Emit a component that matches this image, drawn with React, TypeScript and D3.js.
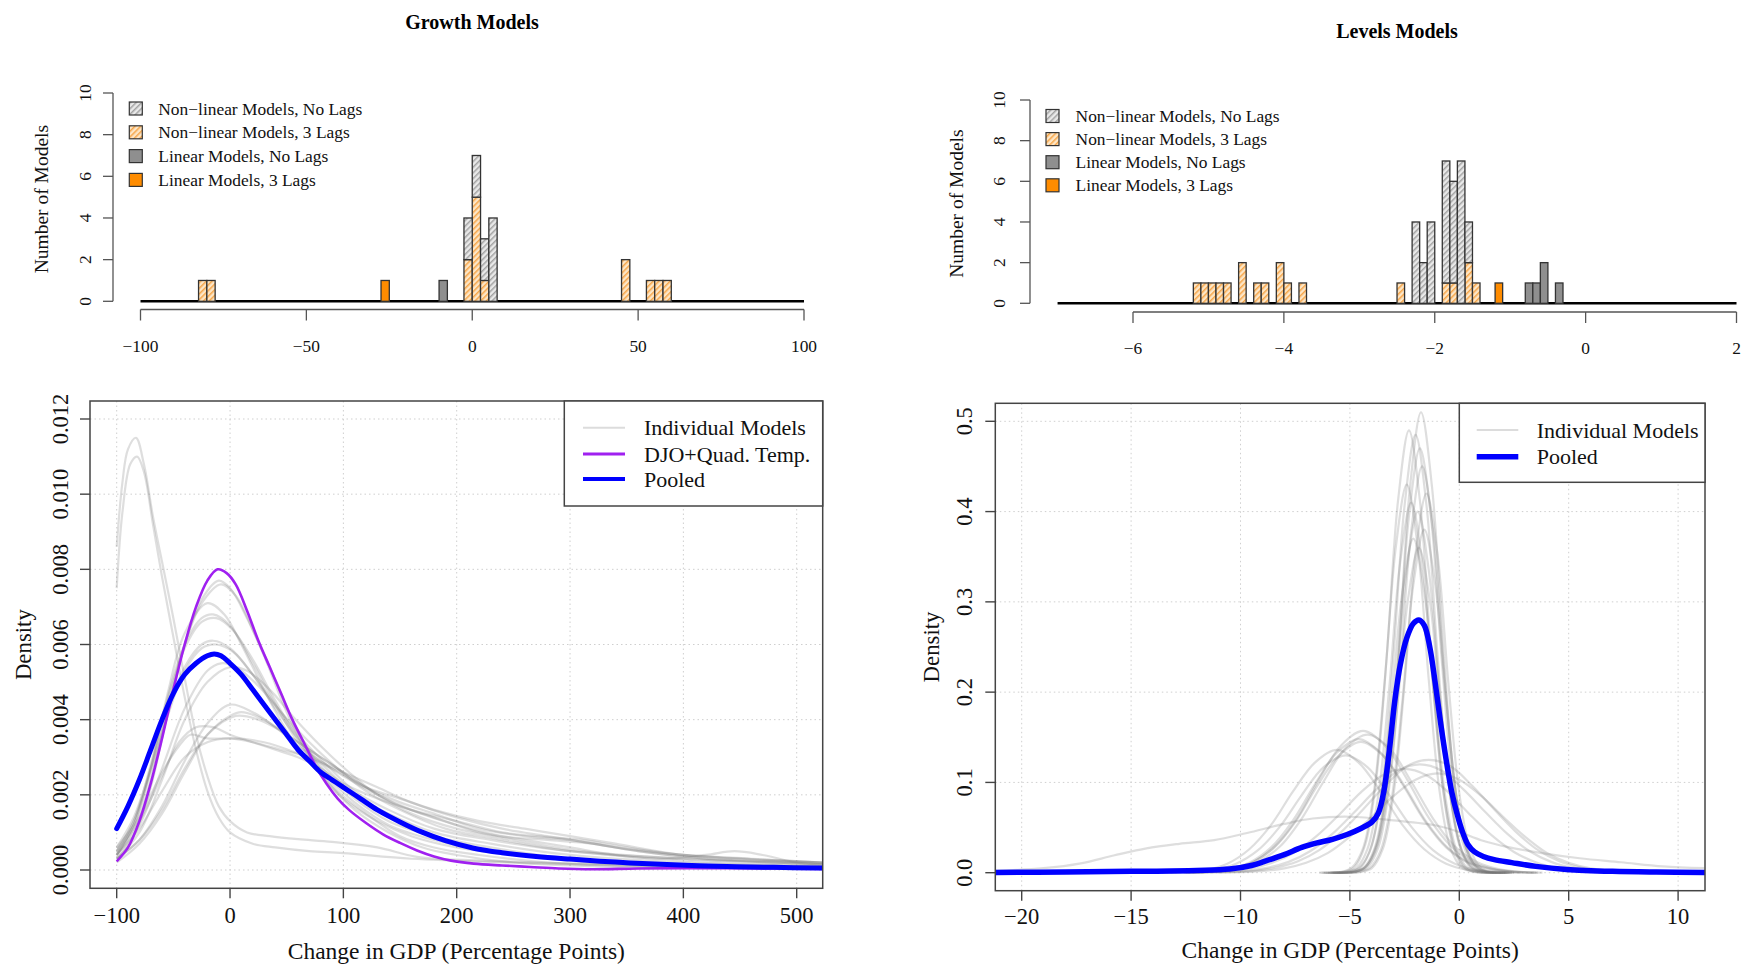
import React, { useEffect, useRef } from "react";
import * as d3 from "d3";

type Pt = [number, number];

const FONT = "'Liberation Serif', 'Times New Roman', serif";

// ---------------- histogram data: [bin start, count] ----------------
const growthBinWidth = 2.5;
const growthNonlin3Lags: Pt[] = [[-82.5, 1], [-80, 1], [-2.5, 2], [0, 5], [2.5, 1], [45, 2], [52.5, 1], [55, 1], [57.5, 1]];
const growthNonlinNoLags: Pt[] = [[-2.5, 2], [0, 2], [2.5, 2], [5, 4]];
const growthLinNoLags: Pt[] = [[-10, 1]];
const growthLin3Lags: Pt[] = [[-27.5, 1]];
const growthHistRange = [-100, 100];
const growthHistTicks = [-100, -50, 0, 50, 100];

const levelsBinWidth = 0.1;
const levelsNonlin3Lags: Pt[] = [
  [-5.2, 1], [-5.1, 1], [-5.0, 1], [-4.9, 1], [-4.8, 1], [-4.6, 2], [-4.4, 1], [-4.3, 1],
  [-4.1, 2], [-4.0, 1], [-3.8, 1], [-2.5, 1], [-1.9, 1], [-1.8, 1], [-1.6, 2], [-1.5, 1],
];
const levelsNonlinNoLags: Pt[] = [[-2.3, 4], [-2.2, 2], [-2.1, 4], [-1.9, 6], [-1.8, 5], [-1.7, 7], [-1.6, 2]];
const levelsLinNoLags: Pt[] = [[-0.8, 1], [-0.7, 1], [-0.6, 2], [-0.4, 1]];
const levelsLin3Lags: Pt[] = [[-1.2, 1]];
const levelsHistRange = [-7, 2];
const levelsHistTicks = [-6, -4, -2, 0, 2];

const countTicks = [0, 2, 4, 6, 8, 10];
const histLegendLabels = [
  "Non\u2212linear Models, No Lags",
  "Non\u2212linear Models, 3 Lags",
  "Linear Models, No Lags",
  "Linear Models, 3 Lags",
];

// ---------------- density data (growth models) ----------------
const growthTicksX = [-100, 0, 100, 200, 300, 400, 500];
const growthTicksY = [0, 0.002, 0.004, 0.006, 0.008, 0.01, 0.012];

const growthPooled: Pt[] = [
  [-100, 0.0011], [-90, 0.0017], [-80, 0.0024], [-70, 0.0032], [-60, 0.004], [-50, 0.0047], [-40, 0.0052],
  [-30, 0.0055], [-20, 0.0057], [-14, 0.00575], [-8, 0.0057], [0, 0.0055], [10, 0.0052], [20, 0.0048], [30, 0.0044],
  [40, 0.004], [50, 0.0036], [60, 0.0032], [70, 0.0029], [80, 0.0026], [90, 0.0024], [100, 0.0022], [115, 0.0019],
  [130, 0.0016], [150, 0.00128], [170, 0.001], [190, 0.00078], [215, 0.00058], [240, 0.00046], [270, 0.00036],
  [300, 0.00029], [340, 0.00021], [380, 0.00015], [430, 0.0001], [480, 0.00007], [523, 0.00005],
];
const growthDJO: Pt[] = [
  [-100, 0.00023], [-90, 0.0006], [-80, 0.0013], [-70, 0.0023], [-60, 0.0035], [-50, 0.0048], [-40, 0.006],
  [-30, 0.007], [-20, 0.0077], [-11, 0.008], [-3, 0.0079], [5, 0.0076], [15, 0.0069], [25, 0.0061], [35, 0.0054],
  [45, 0.0047], [55, 0.004], [65, 0.0034], [75, 0.0028], [85, 0.0023], [95, 0.0019], [105, 0.0016], [120, 0.00125],
  [135, 0.00095], [150, 0.00072], [165, 0.00052], [180, 0.00036], [195, 0.00025], [215, 0.00017], [240, 0.00012],
  [265, 0.00008], [290, 0.00004], [320, 0.00002], [360, 0.00004], [420, 0.00005], [480, 0.00004], [523, 0.00003],
];
const growthModels: Pt[][] = [
  [[-100, 0.0086], [-95, 0.0103], [-90, 0.0112], [-83, 0.0115], [-76, 0.0108], [-68, 0.0094], [-60, 0.0082], [-50, 0.0067],
    [-40, 0.0051], [-30, 0.0036], [-20, 0.0025], [-10, 0.0017], [0, 0.0013], [15, 0.001], [35, 0.0009], [60, 0.00082],
    [90, 0.00075], [130, 0.0006], [165, 0.00035], [220, 0.00025], [300, 0.00018], [400, 0.0001], [523, 0.00005]],
  [[-100, 0.0075], [-95, 0.0095], [-88, 0.0108], [-82, 0.011], [-76, 0.0106], [-68, 0.0092], [-60, 0.0078], [-50, 0.0062],
    [-40, 0.0046], [-30, 0.0032], [-20, 0.0021], [-10, 0.0014], [0, 0.001], [20, 0.0007], [40, 0.0006], [70, 0.0005],
    [100, 0.00045], [160, 0.0003], [250, 0.0002], [350, 0.00012], [523, 0.00005]],
  [[-100, 0.0003], [-85, 0.0009], [-70, 0.0022], [-55, 0.0042], [-40, 0.006], [-25, 0.0072], [-10, 0.0077], [0, 0.0075],
    [15, 0.0067], [30, 0.0057], [50, 0.0042], [70, 0.003], [90, 0.0022], [110, 0.0016], [140, 0.001], [170, 0.0006],
    [200, 0.0004], [250, 0.0002], [320, 0.0001], [420, 0.00005], [523, 0.00003]],
  [[-100, 0.0004], [-85, 0.0011], [-70, 0.0024], [-55, 0.0043], [-40, 0.006], [-25, 0.0071], [-8, 0.0076], [5, 0.0073],
    [20, 0.0064], [35, 0.0054], [55, 0.004], [75, 0.0029], [95, 0.0021], [120, 0.0015], [150, 0.0009], [180, 0.0006],
    [220, 0.0004], [280, 0.0002], [360, 0.0001], [523, 0.00004]],
  [[-100, 0.0004], [-85, 0.0012], [-70, 0.0027], [-55, 0.0047], [-40, 0.0063], [-20, 0.0071], [-5, 0.0068], [10, 0.006],
    [30, 0.0048], [50, 0.0037], [75, 0.0027], [100, 0.0019], [130, 0.0013], [160, 0.0009], [200, 0.0006], [250, 0.0004],
    [320, 0.0002], [420, 0.0001], [523, 0.00005]],
  [[-100, 0.0005], [-85, 0.0013], [-70, 0.0028], [-55, 0.0046], [-40, 0.006], [-25, 0.0067], [-15, 0.0068], [0, 0.0065],
    [20, 0.0055], [40, 0.0044], [60, 0.0034], [85, 0.0025], [110, 0.0018], [140, 0.0012], [180, 0.0008], [230, 0.0005],
    [300, 0.0003], [400, 0.00015], [523, 0.00008]],
  [[-100, 0.0004], [-85, 0.0012], [-70, 0.0027], [-55, 0.0045], [-40, 0.0059], [-25, 0.0066], [-12, 0.0067], [2, 0.0064],
    [20, 0.0056], [40, 0.0045], [60, 0.0035], [85, 0.0026], [110, 0.0019], [140, 0.0013], [180, 0.0009], [230, 0.0006],
    [300, 0.0003], [400, 0.00015], [523, 0.00008]],
  [[-100, 0.0006], [-85, 0.0014], [-70, 0.0027], [-55, 0.0042], [-40, 0.0054], [-25, 0.006], [-15, 0.0061], [0, 0.0059],
    [20, 0.0052], [40, 0.0043], [60, 0.0035], [85, 0.0027], [110, 0.002], [140, 0.0015], [180, 0.001], [230, 0.0007],
    [300, 0.0004], [400, 0.0002], [523, 0.0001]],
  [[-100, 0.0005], [-85, 0.0013], [-70, 0.0026], [-55, 0.0041], [-40, 0.0053], [-25, 0.0059], [-12, 0.006], [3, 0.0058],
    [20, 0.0052], [40, 0.0044], [60, 0.0036], [85, 0.0028], [110, 0.0021], [140, 0.0016], [180, 0.0011], [230, 0.0008],
    [300, 0.0005], [400, 0.00025], [523, 0.0001]],
  [[-100, 0.0004], [-80, 0.0012], [-60, 0.0027], [-40, 0.0043], [-20, 0.0053], [-8, 0.0055], [5, 0.0054], [25, 0.0049],
    [45, 0.0042], [70, 0.0034], [95, 0.0027], [120, 0.0021], [150, 0.0016], [190, 0.0011], [240, 0.0008], [300, 0.0005],
    [400, 0.0003], [523, 0.00015]],
  [[-100, 0.0003], [-80, 0.001], [-60, 0.0024], [-40, 0.004], [-20, 0.005], [0, 0.0054], [15, 0.0053], [35, 0.0048],
    [55, 0.0041], [80, 0.0033], [105, 0.0026], [130, 0.002], [160, 0.0015], [200, 0.0011], [250, 0.0008], [310, 0.0005],
    [400, 0.0003], [523, 0.00015]],
  [[-100, 0.0003], [-80, 0.0008], [-60, 0.0017], [-40, 0.0029], [-20, 0.0039], [0, 0.0044], [20, 0.0042], [40, 0.0038],
    [60, 0.0033], [80, 0.0029], [100, 0.0025], [130, 0.002], [160, 0.0016], [200, 0.0012], [240, 0.0009], [280, 0.0008],
    [320, 0.0007], [360, 0.0005], [420, 0.0003], [523, 0.00015]],
  [[-100, 0.0002], [-80, 0.0007], [-60, 0.0015], [-40, 0.0026], [-20, 0.0036], [0, 0.0041], [10, 0.0042], [30, 0.004],
    [50, 0.0036], [70, 0.0032], [90, 0.0028], [120, 0.0022], [150, 0.0018], [180, 0.0015], [220, 0.0011], [260, 0.0009],
    [300, 0.0008], [340, 0.0006], [400, 0.0004], [523, 0.0002]],
  [[-100, 0.0003], [-80, 0.0008], [-60, 0.0016], [-40, 0.0027], [-20, 0.0036], [5, 0.0041], [25, 0.004], [45, 0.0037],
    [65, 0.0033], [90, 0.0028], [120, 0.0022], [150, 0.0017], [180, 0.0014], [220, 0.001], [260, 0.0008], [300, 0.0006],
    [340, 0.0004], [380, 0.0003], [420, 0.0004], [445, 0.0005], [470, 0.0004], [500, 0.0002], [523, 0.00015]],
  [[-100, 0.0005], [-80, 0.0013], [-60, 0.0025], [-45, 0.0034], [-30, 0.0038], [-15, 0.0038], [0, 0.0036], [20, 0.0034],
    [40, 0.0032], [60, 0.003], [80, 0.0027], [100, 0.0023], [130, 0.0019], [160, 0.0016], [200, 0.0013], [240, 0.001],
    [270, 0.0009], [310, 0.0008], [350, 0.0006], [400, 0.0004], [460, 0.0003], [523, 0.0002]],
  [[-100, 0.0006], [-80, 0.0014], [-60, 0.0026], [-45, 0.0033], [-35, 0.0036], [-20, 0.0035], [0, 0.0035], [20, 0.0034],
    [45, 0.0032], [70, 0.003], [100, 0.0026], [130, 0.0022], [160, 0.0018], [200, 0.0014], [240, 0.0011], [280, 0.0009],
    [320, 0.0007], [360, 0.0005], [420, 0.0003], [523, 0.0002]],
  [[-100, 0.0004], [-80, 0.0011], [-60, 0.0021], [-40, 0.003], [-20, 0.0034], [0, 0.0035], [30, 0.0034], [60, 0.0031],
    [90, 0.0027], [120, 0.0022], [150, 0.0019], [180, 0.0016], [220, 0.0013], [260, 0.0011], [300, 0.0009], [340, 0.0007],
    [400, 0.0004], [523, 0.0002]],
];

// ---------------- density data (levels models) ----------------
const levelsTicksX = [-20, -15, -10, -5, 0, 5, 10];
const levelsTicksY = [0, 0.1, 0.2, 0.3, 0.4, 0.5];

const levelsPooled: Pt[] = [
  [-21.2, 0.0003], [-18, 0.0008], [-15, 0.0015], [-12, 0.0025], [-10.5, 0.004], [-9.5, 0.008], [-8.9, 0.0125],
  [-8, 0.02], [-7.2, 0.028], [-6.5, 0.033], [-5.8, 0.037], [-5.1, 0.0426], [-4.5, 0.049], [-4, 0.056], [-3.7, 0.066],
  [-3.45, 0.09], [-3.2, 0.135], [-2.95, 0.19], [-2.7, 0.23], [-2.4, 0.26], [-2.1, 0.276], [-1.85, 0.28], [-1.6, 0.274],
  [-1.35, 0.25], [-1.1, 0.21], [-0.85, 0.165], [-0.6, 0.125], [-0.35, 0.09], [-0.1, 0.065], [0.15, 0.045],
  [0.4, 0.031], [0.7, 0.023], [1.1, 0.018], [1.6, 0.0145], [2.4, 0.0112], [3.5, 0.007], [4.9, 0.0036], [7, 0.0015],
  [9, 0.0007], [11.2, 0.0003],
];
const levelsModels: Pt[][] = [
  [[-5.75, 0], [-4.75, 0.001], [-4.25, 0.007], [-3.75, 0.032], [-3.25, 0.107], [-2.75, 0.255], [-2.25, 0.428], [-1.75, 0.51],
    [-1.25, 0.428], [-0.75, 0.255], [-0.25, 0.107], [0.25, 0.032], [0.75, 0.007], [1.25, 0.001], [2.25, 0]],
  [[-6.3, 0], [-5.3, 0.001], [-4.8, 0.006], [-4.3, 0.031], [-3.8, 0.103], [-3.3, 0.245], [-2.8, 0.412], [-2.3, 0.49],
    [-1.8, 0.412], [-1.3, 0.245], [-0.8, 0.103], [-0.3, 0.031], [0.2, 0.006], [0.7, 0.001], [1.7, 0]],
  [[-6, 0], [-5, 0.001], [-4.5, 0.006], [-4, 0.031], [-3.5, 0.102], [-3, 0.243], [-2.5, 0.407], [-2, 0.485],
    [-1.5, 0.407], [-1, 0.243], [-0.5, 0.102], [0, 0.031], [0.5, 0.006], [1, 0.001], [2, 0]],
  [[-5.8, 0], [-4.8, 0.001], [-4.3, 0.006], [-3.8, 0.03], [-3.3, 0.099], [-2.8, 0.235], [-2.3, 0.395], [-1.8, 0.47],
    [-1.3, 0.395], [-0.8, 0.235], [-0.3, 0.099], [0.2, 0.03], [0.7, 0.006], [1.2, 0.001], [2.2, 0]],
  [[-5.7, 0], [-4.7, 0.001], [-4.2, 0.006], [-3.7, 0.028], [-3.2, 0.095], [-2.7, 0.225], [-2.2, 0.378], [-1.7, 0.45],
    [-1.2, 0.378], [-0.7, 0.225], [-0.2, 0.095], [0.3, 0.028], [0.8, 0.006], [1.3, 0.001], [2.3, 0]],
  [[-6.2, 0], [-5.2, 0.001], [-4.7, 0.005], [-4.2, 0.026], [-3.7, 0.086], [-3.2, 0.205], [-2.7, 0.344], [-2.2, 0.41],
    [-1.7, 0.344], [-1.2, 0.205], [-0.7, 0.086], [-0.2, 0.026], [0.3, 0.005], [0.8, 0.001], [1.8, 0]],
  [[-5.9, 0], [-4.9, 0.001], [-4.4, 0.005], [-3.9, 0.025], [-3.4, 0.084], [-2.9, 0.2], [-2.4, 0.336], [-1.9, 0.4],
    [-1.4, 0.336], [-0.9, 0.2], [-0.4, 0.084], [0.1, 0.025], [0.6, 0.005], [1.1, 0.001], [2.1, 0]],
  [[-5.6, 0], [-4.6, 0.001], [-4.1, 0.005], [-3.6, 0.024], [-3.1, 0.08], [-2.6, 0.19], [-2.1, 0.319], [-1.6, 0.38],
    [-1.1, 0.319], [-0.6, 0.19], [-0.1, 0.08], [0.4, 0.024], [0.9, 0.005], [1.4, 0.001], [2.4, 0]],
  [[-6.1, 0], [-5.1, 0.001], [-4.6, 0.005], [-4.1, 0.023], [-3.6, 0.078], [-3.1, 0.185], [-2.6, 0.311], [-2.1, 0.37],
    [-1.6, 0.311], [-1.1, 0.185], [-0.6, 0.078], [-0.1, 0.023], [0.4, 0.005], [0.9, 0.001], [1.9, 0]],
  [[-5.85, 0], [-4.85, 0.001], [-4.35, 0.005], [-3.85, 0.023], [-3.35, 0.076], [-2.85, 0.18], [-2.35, 0.302], [-1.85, 0.36],
    [-1.35, 0.302], [-0.85, 0.18], [-0.35, 0.076], [0.15, 0.023], [0.65, 0.005], [1.15, 0.001], [2.15, 0]],
  [[-6.4, 0], [-5.4, 0.001], [-4.9, 0.006], [-4.4, 0.027], [-3.9, 0.09], [-3.4, 0.215], [-2.9, 0.361], [-2.4, 0.43],
    [-1.9, 0.361], [-1.4, 0.215], [-0.9, 0.09], [-0.4, 0.027], [0.1, 0.006], [0.6, 0.001], [1.6, 0]],
  [[-5.5, 0], [-4.5, 0.001], [-4, 0.005], [-3.5, 0.026], [-3, 0.088], [-2.5, 0.21], [-2, 0.353], [-1.5, 0.42],
    [-1, 0.353], [-0.5, 0.21], [0, 0.088], [0.5, 0.026], [1, 0.005], [1.5, 0.001], [2.5, 0]],
  [[-12.4, 0.0002], [-11.4, 0.001], [-10.4, 0.004], [-9.4, 0.012], [-8.4, 0.03], [-7.4, 0.061], [-6.4, 0.104], [-5.4, 0.141],
    [-4.4, 0.157], [-3.4, 0.141], [-2.4, 0.104], [-1.4, 0.061], [-0.4, 0.03], [0.6, 0.012], [1.6, 0.004], [2.6, 0.001], [3.6, 0]],
  [[-12.2, 0], [-11.2, 0.001], [-10.2, 0.004], [-9.2, 0.012], [-8.2, 0.029], [-7.2, 0.06], [-6.2, 0.101], [-5.2, 0.138],
    [-4.2, 0.153], [-3.2, 0.138], [-2.2, 0.101], [-1.2, 0.06], [-0.2, 0.029], [0.8, 0.012], [1.8, 0.004], [2.8, 0.001], [3.8, 0]],
  [[-12.6, 0], [-11.6, 0.001], [-10.6, 0.004], [-9.6, 0.011], [-8.6, 0.028], [-7.6, 0.058], [-6.6, 0.098], [-5.6, 0.133],
    [-4.6, 0.148], [-3.6, 0.133], [-2.6, 0.098], [-1.6, 0.058], [-0.6, 0.028], [0.4, 0.011], [1.4, 0.004], [2.4, 0.001], [3.4, 0]],
  [[-12.5, 0], [-11.5, 0.001], [-10.5, 0.004], [-9.5, 0.011], [-8.5, 0.027], [-7.5, 0.056], [-6.5, 0.096], [-5.5, 0.13],
    [-4.5, 0.145], [-3.5, 0.13], [-2.5, 0.096], [-1.5, 0.056], [-0.5, 0.027], [0.5, 0.011], [1.5, 0.004], [2.5, 0.001], [3.5, 0]],
  [[-13.6, 0], [-12.6, 0.001], [-11.6, 0.003], [-10.6, 0.01], [-9.6, 0.026], [-8.6, 0.053], [-7.6, 0.09], [-6.6, 0.122],
    [-5.6, 0.136], [-4.6, 0.122], [-3.6, 0.09], [-2.6, 0.053], [-1.6, 0.026], [-0.6, 0.01], [0.4, 0.003], [1.4, 0.001], [2.4, 0]],
  [[-13.2, 0], [-12.2, 0.001], [-11.2, 0.003], [-10.2, 0.01], [-9.2, 0.025], [-8.2, 0.051], [-7.2, 0.086], [-6.2, 0.117],
    [-5.2, 0.13], [-4.2, 0.117], [-3.2, 0.086], [-2.2, 0.051], [-1.2, 0.025], [-0.2, 0.01], [0.8, 0.003], [1.8, 0.001], [2.8, 0]],
  [[-11.4, 0.0003], [-10.4, 0.0008], [-9.4, 0.002], [-8.4, 0.0055], [-7.4, 0.0125], [-6.4, 0.025], [-5.4, 0.045], [-4.4, 0.07],
    [-3.4, 0.096], [-2.4, 0.118], [-1.4, 0.125], [-0.4, 0.118], [0.6, 0.096], [1.6, 0.07], [2.6, 0.045], [3.6, 0.025],
    [4.6, 0.0125], [5.6, 0.0055], [6.6, 0.002], [7.6, 0.0008], [8.6, 0.0003]],
  [[-11.8, 0.0003], [-10.8, 0.0008], [-9.8, 0.002], [-8.8, 0.0053], [-7.8, 0.012], [-6.8, 0.024], [-5.8, 0.043], [-4.8, 0.067],
    [-3.8, 0.092], [-2.8, 0.113], [-1.8, 0.12], [-0.8, 0.113], [0.2, 0.092], [1.2, 0.067], [2.2, 0.043], [3.2, 0.024],
    [4.2, 0.012], [5.2, 0.0053], [6.2, 0.002], [7.2, 0.0008], [8.2, 0.0003]],
  [[-12.5, 0.0003], [-11.5, 0.0007], [-10.5, 0.002], [-9.5, 0.005], [-8.5, 0.0115], [-7.5, 0.023], [-6.5, 0.041], [-5.5, 0.064],
    [-4.5, 0.089], [-3.5, 0.108], [-2.5, 0.115], [-1.5, 0.108], [-0.5, 0.089], [0.5, 0.064], [1.5, 0.041], [2.5, 0.023],
    [3.5, 0.0115], [4.5, 0.005], [5.5, 0.002], [6.5, 0.0007], [7.5, 0.0003]],
  [[-11, 0.0003], [-10, 0.0007], [-9, 0.002], [-8, 0.0048], [-7, 0.011], [-6, 0.022], [-5, 0.04], [-4, 0.062],
    [-3, 0.085], [-2, 0.103], [-1, 0.11], [0, 0.103], [1, 0.085], [2, 0.062], [3, 0.04], [4, 0.022],
    [5, 0.011], [6, 0.0048], [7, 0.002], [8, 0.0007], [9, 0.0003]],
  [[-21.2, 0.002], [-19, 0.005], [-17.3, 0.0104], [-15.8, 0.019], [-14.3, 0.027], [-12.8, 0.032], [-11.2, 0.036], [-9.7, 0.044],
    [-8, 0.054], [-6.7, 0.06], [-5, 0.062], [-3, 0.058], [-1, 0.052], [0, 0.045], [1, 0.036], [2.3, 0.028], [3.7, 0.022],
    [5.5, 0.016], [7.4, 0.0116], [9.3, 0.007], [11.2, 0.005]],
];

// ---------------- drawing helpers ----------------
type Sel = d3.Selection<any, unknown, null, undefined>;

function vText(g: Sel, x: number, y: number, str: string, size: number) {
  g.append("text")
    .attr("transform", `translate(${x},${y}) rotate(-90)`)
    .attr("text-anchor", "middle")
    .attr("dominant-baseline", "central")
    .attr("font-family", FONT)
    .attr("font-size", size)
    .attr("fill", "#111")
    .text(str);
}

function hText(g: Sel, x: number, y: number, str: string, size: number, anchor = "middle") {
  g.append("text")
    .attr("x", x)
    .attr("y", y)
    .attr("text-anchor", anchor)
    .attr("dominant-baseline", "central")
    .attr("font-family", FONT)
    .attr("font-size", size)
    .attr("fill", "#111")
    .text(str);
}

const minus = (v: number, fmt: (v: number) => string) => fmt(v).replace("-", "\u2212");

function drawHistogram(g: Sel, cfg: any) {
  const { x, y, bw, nonlin3, nonlinNo, linNo, lin3, range, xTicks, axisY, xLabelY, yAxisX, yLabelX, yTitleX, legend } = cfg;
  const ink = "#333";

  // zero-height bars across the whole range
  g.append("line")
    .attr("x1", x(range[0])).attr("x2", x(range[1]))
    .attr("y1", y(0)).attr("y2", y(0))
    .attr("stroke", "#000").attr("stroke-width", 2.6);

  const base = new Map<string, number>();
  nonlin3.forEach(([b, c]: Pt) => base.set(b.toFixed(2), c));

  const bars = (data: Pt[], fill: string, offset: boolean) =>
    g.append("g").selectAll("rect").data(data).join("rect")
      .attr("x", (d) => x(d[0]))
      .attr("width", (d) => x(d[0] + bw) - x(d[0]))
      .attr("y", (d) => y((offset ? base.get(d[0].toFixed(2)) || 0 : 0) + d[1]))
      .attr("height", (d) => y(0) - y(d[1]))
      .attr("fill", fill)
      .attr("stroke", ink)
      .attr("stroke-width", 1.3);

  bars(nonlin3, "url(#hatchOrange)", false);
  bars(nonlinNo, "url(#hatchGray)", true);
  bars(linNo, "#8f8f8f", false);
  bars(lin3, "#ff8c00", false);

  // x axis
  const xa = g.append("g").attr("stroke", "#555").attr("stroke-width", 1.3);
  xa.append("line").attr("x1", x(xTicks[0])).attr("x2", x(xTicks[xTicks.length - 1])).attr("y1", axisY).attr("y2", axisY);
  xTicks.forEach((t: number) => {
    xa.append("line").attr("x1", x(t)).attr("x2", x(t)).attr("y1", axisY).attr("y2", axisY + 11);
    hText(g, x(t), xLabelY, minus(t, String), 17.4);
  });

  // y axis
  const ya = g.append("g").attr("stroke", "#555").attr("stroke-width", 1.3);
  ya.append("line").attr("x1", yAxisX).attr("x2", yAxisX).attr("y1", y(0)).attr("y2", y(10));
  countTicks.forEach((t) => {
    ya.append("line").attr("x1", yAxisX - 10).attr("x2", yAxisX).attr("y1", y(t)).attr("y2", y(t));
    vText(g, yLabelX, y(t), String(t), 17.4);
  });
  vText(g, yTitleX, (y(0) + y(10)) / 2 + 2, "Number of Models", 19.5);

  // legend
  const fills = ["url(#hatchGray)", "url(#hatchOrange)", "#8f8f8f", "#ff8c00"];
  histLegendLabels.forEach((lab, i) => {
    const ry = legend.y0 + i * legend.dy;
    g.append("rect")
      .attr("x", legend.sx - 6.5).attr("y", ry - 6.5)
      .attr("width", 13).attr("height", 13)
      .attr("fill", fills[i]).attr("stroke", ink).attr("stroke-width", 1.2);
    hText(g, legend.tx, ry, lab, 17.4, "start");
  });
}

function drawDensity(g: Sel, cfg: any) {
  const { id, x, y, box, xTicks, yTicks, yFmt, models, extra, pooled, pooledWidth, legend, xLabelY, yLabelX, xTitleY, yTitleX } = cfg;
  const [bx0, by0, bx1, by1] = box;

  g.append("clipPath").attr("id", id).append("rect")
    .attr("x", bx0).attr("y", by0).attr("width", bx1 - bx0).attr("height", by1 - by0);

  // grid
  const grid = g.append("g").attr("stroke", "#cfcfcf").attr("stroke-width", 1).attr("stroke-dasharray", "1.5,3");
  xTicks.forEach((t: number) =>
    grid.append("line").attr("x1", x(t)).attr("x2", x(t)).attr("y1", by0).attr("y2", by1));
  yTicks.forEach((t: number) =>
    grid.append("line").attr("x1", bx0).attr("x2", bx1).attr("y1", y(t)).attr("y2", y(t)));

  const line = d3.line<Pt>().x((d) => x(d[0])).y((d) => y(d[1])).curve(d3.curveCatmullRom.alpha(0.5));
  const plot = g.append("g").attr("clip-path", `url(#${id})`);

  plot.append("g").selectAll("path").data(models as Pt[][]).join("path")
    .attr("d", (d) => line(d))
    .attr("fill", "none")
    .attr("stroke", "rgba(115,115,115,0.24)")
    .attr("stroke-width", 2.2);

  if (extra) {
    plot.append("path").attr("d", line(extra)).attr("fill", "none")
      .attr("stroke", "#a020f0").attr("stroke-width", 2.6);
  }
  plot.append("path").attr("d", line(pooled)).attr("fill", "none")
    .attr("stroke", "#0000ff").attr("stroke-width", pooledWidth).attr("stroke-linecap", "round");

  // box
  g.append("rect").attr("x", bx0).attr("y", by0).attr("width", bx1 - bx0).attr("height", by1 - by0)
    .attr("fill", "none").attr("stroke", "#444").attr("stroke-width", 1.5);

  // axes
  const ax = g.append("g").attr("stroke", "#444").attr("stroke-width", 1.4);
  xTicks.forEach((t: number) => {
    ax.append("line").attr("x1", x(t)).attr("x2", x(t)).attr("y1", by1).attr("y2", by1 + 10);
    hText(g, x(t), xLabelY, minus(t, String), 22.5);
  });
  yTicks.forEach((t: number) => {
    ax.append("line").attr("x1", bx0 - 10).attr("x2", bx0).attr("y1", y(t)).attr("y2", y(t));
    vText(g, yLabelX, y(t), yFmt(t), 22.5);
  });
  hText(g, (bx0 + bx1) / 2, xTitleY, "Change in GDP (Percentage Points)", 23.5);
  vText(g, yTitleX, (by0 + by1) / 2, "Density", 22.8);

  // legend
  g.append("rect").attr("x", legend.x0).attr("y", by0).attr("width", bx1 - legend.x0).attr("height", legend.y1 - by0)
    .attr("fill", "#fff").attr("stroke", "#444").attr("stroke-width", 1.5);
  legend.items.forEach((it: any, i: number) => {
    const ry = legend.ry[i];
    g.append("line").attr("x1", legend.lx0).attr("x2", legend.lx1).attr("y1", ry).attr("y2", ry)
      .attr("stroke", it.color).attr("stroke-width", it.width);
    hText(g, legend.tx, ry, it.label, 22, "start");
  });
}

export default function App() {
  const ref = useRef<SVGSVGElement>(null);

  useEffect(() => {
    const svg = d3.select(ref.current) as Sel;
    svg.selectAll("*").remove();

    const defs = svg.append("defs");
    const hatch = (id: string, bg: string, fg: string) => {
      const p = defs.append("pattern").attr("id", id)
        .attr("patternUnits", "userSpaceOnUse").attr("width", 4).attr("height", 4)
        .attr("patternTransform", "rotate(45)");
      p.append("rect").attr("width", 4).attr("height", 4).attr("fill", bg);
      p.append("line").attr("x1", 0.75).attr("x2", 0.75).attr("y1", 0).attr("y2", 4)
        .attr("stroke", fg).attr("stroke-width", 1.5);
    };
    hatch("hatchGray", "#e9e9e9", "#a3a3a3");
    hatch("hatchOrange", "#fde6c6", "#f6a548");

    // titles
    svg.append("text").attr("x", 472).attr("y", 29).attr("text-anchor", "middle")
      .attr("font-family", FONT).attr("font-weight", "bold").attr("font-size", 20).text("Growth Models");
    svg.append("text").attr("x", 1397).attr("y", 38).attr("text-anchor", "middle")
      .attr("font-family", FONT).attr("font-weight", "bold").attr("font-size", 20).text("Levels Models");

    drawHistogram(svg.append("g"), {
      x: d3.scaleLinear().domain([-100, 100]).range([140.5, 804]),
      y: d3.scaleLinear().domain([0, 10]).range([301.3, 93]),
      bw: growthBinWidth,
      nonlin3: growthNonlin3Lags, nonlinNo: growthNonlinNoLags, linNo: growthLinNoLags, lin3: growthLin3Lags,
      range: growthHistRange, xTicks: growthHistTicks,
      axisY: 309.5, xLabelY: 346, yAxisX: 113, yLabelX: 85, yTitleX: 41.5,
      legend: { sx: 135.8, tx: 158.3, y0: 108.5, dy: 23.8 },
    });

    drawHistogram(svg.append("g"), {
      x: d3.scaleLinear().domain([-6, 2]).range([1133, 1736.5]),
      y: d3.scaleLinear().domain([0, 10]).range([303.3, 100]),
      bw: levelsBinWidth,
      nonlin3: levelsNonlin3Lags, nonlinNo: levelsNonlinNoLags, linNo: levelsLinNoLags, lin3: levelsLin3Lags,
      range: levelsHistRange, xTicks: levelsHistTicks,
      axisY: 312, xLabelY: 347.5, yAxisX: 1030, yLabelX: 999, yTitleX: 956,
      legend: { sx: 1052.5, tx: 1075.6, y0: 116, dy: 23.1 },
    });

    drawDensity(svg.append("g"), {
      id: "clipGrowth",
      x: d3.scaleLinear().domain([-100, 500]).range([116.7, 796.7]),
      y: d3.scaleLinear().domain([0, 0.012]).range([870, 419]),
      box: [90, 401, 822.7, 888.3],
      xTicks: growthTicksX, yTicks: growthTicksY, yFmt: d3.format(".3f"),
      models: growthModels, extra: growthDJO, pooled: growthPooled, pooledWidth: 5,
      xLabelY: 915, yLabelX: 60, xTitleY: 951, yTitleX: 23.5,
      legend: {
        x0: 564.3, y1: 506, lx0: 583, lx1: 625, tx: 644, ry: [427.7, 454, 479],
        items: [
          { label: "Individual Models", color: "#dcdcdc", width: 2 },
          { label: "DJO+Quad. Temp.", color: "#a020f0", width: 3 },
          { label: "Pooled", color: "#0000ff", width: 4 },
        ],
      },
    });

    drawDensity(svg.append("g"), {
      id: "clipLevels",
      x: d3.scaleLinear().domain([-20, 10]).range([1021.7, 1678.1]),
      y: d3.scaleLinear().domain([0, 0.5]).range([872.7, 421.3]),
      box: [995.3, 403.3, 1705, 890.7],
      xTicks: levelsTicksX, yTicks: levelsTicksY, yFmt: d3.format(".1f"),
      models: levelsModels, extra: null, pooled: levelsPooled, pooledWidth: 5.5,
      xLabelY: 916.7, yLabelX: 964, xTitleY: 950, yTitleX: 931,
      legend: {
        x0: 1459.3, y1: 482.3, lx0: 1476.7, lx1: 1518.3, tx: 1536.7, ry: [430, 456.7],
        items: [
          { label: "Individual Models", color: "#dcdcdc", width: 2 },
          { label: "Pooled", color: "#0000ff", width: 5.5 },
        ],
      },
    });
  }, []);

  return (
    <svg
      ref={ref}
      width={1742}
      height={966}
      style={{ position: "absolute", left: 0, top: 0, background: "#fff", display: "block" }}
    />
  );
}
